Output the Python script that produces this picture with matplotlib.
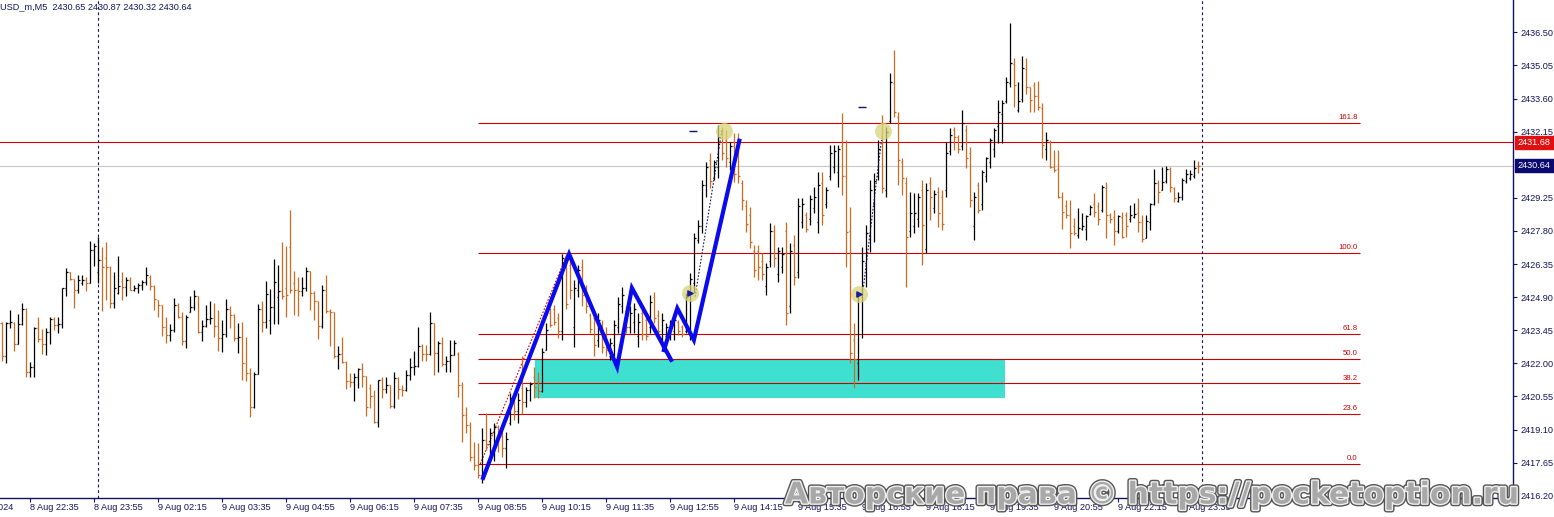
import matplotlib
matplotlib.use("Agg")
import matplotlib.pyplot as plt
from matplotlib.collections import LineCollection
from matplotlib.patches import Rectangle
from matplotlib import patheffects as pe
from matplotlib.transforms import blended_transform_factory

plt.rcParams['font.family'] = ['Liberation Sans', 'DejaVu Sans']

# ---- M5 bars (oldest first) ----
opens = [
    2423.75, 2422.34, 2423.76, 2423.78, 2422.85, 2423.73, 2424.40, 2421.61, 2421.83, 2423.54,
    2423.06, 2422.85, 2423.39, 2423.93, 2423.69, 2423.73, 2425.29, 2425.99, 2425.69, 2425.22,
    2425.50, 2425.63, 2425.51, 2426.97, 2426.00, 2426.53, 2426.60, 2426.24, 2424.63, 2425.10,
    2425.60, 2425.36, 2425.66, 2425.22, 2425.29, 2425.44, 2425.58, 2425.80, 2425.39, 2424.78,
    2424.55, 2423.61, 2423.25, 2423.47, 2424.56, 2424.05, 2422.96, 2424.25, 2424.46, 2424.93,
    2423.35, 2423.64, 2423.95, 2423.98, 2423.64, 2423.13, 2423.29, 2424.39, 2424.12, 2423.10,
    2423.17, 2422.01, 2421.57, 2420.08, 2421.54, 2424.37, 2423.79, 2423.90, 2424.46, 2424.90,
    2425.15, 2425.30, 2427.10, 2425.50, 2425.22, 2425.15, 2425.32, 2426.05, 2425.07, 2424.71,
    2423.64, 2425.22, 2424.30, 2424.24, 2422.33, 2422.40, 2422.05, 2421.23, 2421.20, 2421.38,
    2421.74, 2421.45, 2420.90, 2420.58, 2419.42, 2421.28, 2420.87, 2421.06, 2420.11, 2421.35,
    2420.87, 2420.81, 2421.50, 2421.82, 2421.89, 2422.74, 2422.42, 2422.40, 2423.76, 2422.44,
    2422.88, 2421.98, 2422.08, 2422.37, 2422.40, 2421.05, 2419.74, 2419.30, 2417.91, 2417.55,
    2417.10, 2418.64, 2418.45, 2418.30, 2419.20, 2418.80, 2418.30, 2419.40, 2420.30, 2419.90,
    2420.90, 2420.30, 2420.85, 2421.40, 2421.20, 2420.80, 2422.60, 2424.20, 2424.40, 2424.00,
    2423.40, 2426.60, 2426.30, 2423.60, 2425.20, 2426.20, 2425.20, 2424.10, 2424.00, 2423.00,
    2423.70, 2423.20, 2422.30, 2422.80, 2423.60, 2424.50, 2424.30, 2423.60, 2423.80, 2423.20,
    2424.20, 2423.90, 2423.60, 2424.90, 2424.10, 2423.10, 2423.20, 2423.30, 2423.40, 2423.80,
    2423.60, 2423.40, 2423.40, 2425.50, 2427.40, 2428.00, 2429.80, 2430.90, 2430.10, 2430.60,
    2432.10, 2431.80, 2430.80, 2431.50, 2431.80, 2429.90, 2428.90, 2428.50, 2426.90, 2426.90,
    2426.50, 2425.40, 2426.50, 2427.80, 2425.90, 2426.20, 2427.80, 2424.50, 2427.20, 2426.00,
    2428.20, 2428.50, 2428.30, 2428.80, 2428.20, 2429.90, 2429.00, 2430.20, 2430.60, 2430.40,
    2431.50, 2430.20, 2427.80, 2423.00, 2422.00, 2424.90, 2426.40, 2427.60, 2429.00, 2430.20,
    2431.90, 2429.60, 2432.60, 2434.30, 2432.80, 2430.80, 2429.90, 2427.80, 2428.00, 2428.30,
    2429.60, 2427.00, 2429.90, 2428.80, 2429.50, 2429.30, 2429.60, 2431.30, 2432.20, 2431.90,
    2431.50, 2432.20, 2431.20, 2428.00, 2429.80, 2429.00, 2430.20, 2430.80, 2431.40, 2432.40,
    2432.90, 2433.50, 2434.30, 2435.10, 2433.10, 2433.60, 2434.90, 2434.10, 2434.20, 2433.70,
    2433.20, 2431.40, 2431.70, 2430.60, 2430.50, 2429.30, 2428.90, 2428.50, 2428.00, 2427.60,
    2427.90, 2427.90, 2428.55, 2429.00, 2428.90, 2428.70, 2429.70, 2428.50, 2428.40, 2427.80,
    2428.40, 2428.50, 2428.30, 2428.40, 2428.60, 2428.20, 2427.50, 2428.20, 2429.00, 2429.90,
    2429.60, 2430.00, 2430.50, 2429.70, 2429.10, 2429.30, 2430.00, 2430.10, 2430.20, 2430.65,
]
highs = [
    2423.80, 2423.80, 2424.34, 2423.80, 2424.17, 2424.63, 2424.44, 2422.05, 2423.61, 2424.02,
    2423.51, 2423.54, 2424.05, 2424.05, 2424.02, 2425.29, 2426.17, 2426.02, 2425.70, 2425.88,
    2425.85, 2425.77, 2427.36, 2427.26, 2427.52, 2427.09, 2427.31, 2426.27, 2425.98, 2426.71,
    2425.98, 2425.80, 2425.77, 2425.44, 2425.51, 2425.66, 2426.24, 2425.85, 2425.44, 2424.78,
    2424.56, 2424.02, 2423.73, 2424.85, 2424.63, 2424.23, 2424.12, 2424.93, 2425.22, 2424.93,
    2423.88, 2424.56, 2424.71, 2424.63, 2424.34, 2423.90, 2424.82, 2424.49, 2424.17, 2423.76,
    2423.83, 2423.17, 2421.79, 2421.64, 2424.61, 2424.71, 2425.61, 2425.25, 2426.56, 2426.31,
    2427.31, 2427.12, 2428.72, 2426.05, 2425.77, 2425.76, 2426.20, 2426.05, 2425.15, 2424.71,
    2425.41, 2425.88, 2424.39, 2424.24, 2422.78, 2423.17, 2422.08, 2421.57, 2421.57, 2421.79,
    2422.01, 2421.45, 2421.10, 2420.84, 2421.28, 2421.39, 2421.42, 2421.06, 2421.61, 2421.42,
    2421.06, 2421.71, 2422.23, 2422.52, 2423.57, 2422.85, 2422.81, 2424.24, 2423.76, 2422.96,
    2423.15, 2422.30, 2423.03, 2423.03, 2422.51, 2421.19, 2420.10, 2419.45, 2418.57, 2418.50,
    2419.15, 2419.81, 2419.15, 2419.40, 2419.30, 2419.10, 2419.00, 2420.70, 2420.40, 2420.70,
    2422.30, 2420.98, 2421.20, 2421.86, 2421.64, 2422.66, 2423.75, 2424.41, 2424.55, 2424.20,
    2426.80, 2426.83, 2426.70, 2425.65, 2426.31, 2426.56, 2425.43, 2424.19, 2424.27, 2424.19,
    2423.90, 2423.61, 2423.10, 2423.90, 2424.92, 2425.36, 2424.49, 2424.49, 2424.63, 2424.19,
    2424.49, 2424.19, 2425.00, 2425.14, 2424.34, 2424.19, 2423.75, 2423.90, 2424.05, 2423.90,
    2423.68, 2425.07, 2425.95, 2427.70, 2428.28, 2430.03, 2430.83, 2431.20, 2430.91, 2432.44,
    2432.37, 2432.22, 2431.71, 2432.08, 2432.07, 2430.03, 2429.15, 2428.86, 2427.18, 2427.18,
    2426.82, 2426.38, 2428.13, 2428.06, 2427.11, 2427.11, 2428.20, 2427.25, 2427.62, 2429.23,
    2429.23, 2428.64, 2429.37, 2429.74, 2430.40, 2430.40, 2429.74, 2431.56, 2431.56, 2431.56,
    2432.95, 2431.78, 2428.86, 2423.75, 2425.07, 2427.11, 2428.06, 2430.03, 2430.32, 2431.78,
    2432.88, 2432.37, 2434.70, 2435.72, 2433.02, 2430.98, 2430.17, 2429.52, 2429.44, 2429.44,
    2430.03, 2429.88, 2430.17, 2429.59, 2429.74, 2429.59, 2431.71, 2432.29, 2432.36, 2432.00,
    2433.09, 2432.44, 2431.49, 2429.52, 2429.96, 2430.47, 2431.05, 2431.85, 2432.29, 2433.53,
    2433.53, 2434.53, 2436.90, 2435.36, 2434.34, 2435.46, 2435.39, 2434.12, 2434.34, 2434.37,
    2433.39, 2432.15, 2431.78, 2431.35, 2431.35, 2429.52, 2429.15, 2429.15, 2428.35, 2428.79,
    2428.57, 2428.50, 2428.94, 2429.45, 2429.08, 2429.81, 2429.96, 2428.57, 2428.72, 2428.50,
    2428.64, 2428.64, 2428.94, 2429.01, 2429.23, 2428.50, 2428.50, 2429.01, 2430.51, 2430.03,
    2430.62, 2430.66, 2430.62, 2429.74, 2429.52, 2430.10, 2430.51, 2430.47, 2430.91, 2430.87,
]
lows = [
    2422.12, 2422.01, 2423.54, 2422.52, 2422.85, 2423.69, 2421.38, 2421.42, 2421.42, 2422.93,
    2422.42, 2422.37, 2422.85, 2423.47, 2423.32, 2423.54, 2424.96, 2425.66, 2424.44, 2425.10,
    2425.44, 2425.15, 2425.51, 2426.28, 2425.54, 2424.27, 2424.78, 2424.42, 2424.42, 2425.04,
    2424.78, 2424.93, 2425.20, 2425.15, 2425.07, 2425.22, 2425.44, 2425.22, 2424.34, 2424.05,
    2423.20, 2422.91, 2422.96, 2423.39, 2423.98, 2422.80, 2422.66, 2424.23, 2424.34, 2423.32,
    2422.96, 2423.61, 2423.73, 2423.17, 2422.52, 2422.49, 2423.17, 2423.54, 2422.96, 2422.44,
    2421.28, 2421.23, 2419.67, 2420.04, 2421.54, 2423.35, 2423.54, 2423.29, 2423.73, 2423.73,
    2424.81, 2424.05, 2425.07, 2424.12, 2424.09, 2424.93, 2425.15, 2424.34, 2423.88, 2423.06,
    2423.54, 2424.20, 2422.78, 2422.23, 2421.74, 2422.01, 2420.87, 2420.98, 2420.33, 2420.91,
    2420.98, 2419.71, 2420.04, 2419.38, 2419.19, 2420.50, 2420.69, 2420.04, 2420.04, 2420.43,
    2420.55, 2420.77, 2421.28, 2421.50, 2421.86, 2422.08, 2422.12, 2422.37, 2421.47, 2421.60,
    2421.89, 2421.60, 2421.64, 2422.37, 2420.54, 2418.57, 2418.94, 2417.70, 2417.33, 2416.97,
    2416.74, 2418.21, 2417.84, 2417.70, 2418.10, 2417.90, 2417.40, 2419.30, 2419.50, 2419.40,
    2419.80, 2420.10, 2420.33, 2420.47, 2420.47, 2420.76, 2422.58, 2423.61, 2423.68, 2423.10,
    2423.00, 2424.40, 2424.80, 2422.73, 2424.92, 2424.49, 2424.19, 2423.32, 2422.30, 2422.73,
    2422.44, 2422.30, 2422.15, 2422.30, 2423.32, 2424.19, 2423.32, 2423.32, 2423.32, 2422.73,
    2423.02, 2423.02, 2423.32, 2423.75, 2423.17, 2422.66, 2423.02, 2423.02, 2423.02, 2423.24,
    2423.17, 2423.32, 2423.02, 2425.07, 2427.26, 2427.70, 2429.30, 2429.67, 2430.03, 2430.10,
    2430.91, 2430.62, 2430.47, 2429.96, 2429.88, 2428.71, 2427.77, 2427.04, 2425.80, 2425.65,
    2425.65, 2424.99, 2426.23, 2426.23, 2425.58, 2425.94, 2423.68, 2424.20, 2425.43, 2425.72,
    2427.91, 2427.77, 2428.06, 2428.57, 2427.70, 2428.06, 2428.79, 2430.03, 2430.32, 2429.74,
    2429.37, 2426.23, 2422.00, 2420.90, 2421.27, 2423.10, 2425.36, 2426.89, 2427.33, 2430.03,
    2429.44, 2429.30, 2432.51, 2432.80, 2429.81, 2429.37, 2425.36, 2427.55, 2427.69, 2427.98,
    2426.31, 2426.82, 2428.28, 2428.57, 2427.98, 2427.84, 2429.30, 2431.12, 2431.34, 2431.20,
    2431.34, 2430.54, 2428.86, 2427.40, 2428.57, 2428.71, 2429.96, 2430.54, 2431.05, 2431.64,
    2431.64, 2433.39, 2434.12, 2433.24, 2433.02, 2433.46, 2433.78, 2433.02, 2433.02, 2433.10,
    2430.98, 2430.91, 2430.54, 2430.40, 2429.23, 2427.90, 2428.35, 2427.04, 2427.62, 2427.48,
    2427.84, 2427.40, 2428.50, 2428.43, 2428.06, 2428.64, 2427.48, 2428.13, 2427.18, 2427.70,
    2427.48, 2427.55, 2428.21, 2428.35, 2427.77, 2427.33, 2427.48, 2427.84, 2428.94, 2429.01,
    2429.59, 2429.89, 2429.52, 2429.08, 2429.08, 2429.15, 2429.89, 2430.03, 2430.10, 2430.32,
]
closes = [
    2422.34, 2423.76, 2423.83, 2422.85, 2423.73, 2424.40, 2421.61, 2421.83, 2423.54, 2423.06,
    2422.85, 2423.39, 2423.93, 2423.69, 2423.73, 2425.29, 2425.99, 2425.69, 2425.22, 2425.66,
    2425.63, 2425.51, 2426.97, 2427.16, 2426.53, 2426.24, 2426.24, 2424.63, 2425.29, 2425.40,
    2425.36, 2425.66, 2425.22, 2425.29, 2425.44, 2425.58, 2425.88, 2425.39, 2424.82, 2424.55,
    2423.61, 2423.25, 2423.47, 2424.56, 2424.05, 2422.96, 2424.02, 2424.46, 2424.93, 2423.35,
    2423.64, 2423.95, 2423.98, 2423.64, 2423.13, 2423.29, 2424.39, 2424.12, 2423.10, 2423.17,
    2422.01, 2421.57, 2420.08, 2421.54, 2424.37, 2423.79, 2425.04, 2424.46, 2425.58, 2425.15,
    2424.93, 2425.00, 2425.22, 2425.22, 2425.15, 2425.32, 2426.05, 2425.07, 2424.71, 2423.64,
    2425.22, 2424.30, 2424.24, 2422.33, 2422.40, 2422.05, 2421.23, 2421.20, 2421.38, 2421.74,
    2421.45, 2420.08, 2420.58, 2419.42, 2421.28, 2420.87, 2421.06, 2420.11, 2421.35, 2420.87,
    2420.81, 2421.50, 2421.82, 2421.89, 2422.74, 2422.42, 2422.40, 2423.76, 2422.44, 2422.88,
    2421.98, 2422.08, 2422.37, 2422.88, 2421.05, 2419.74, 2419.30, 2417.91, 2417.55, 2417.10,
    2418.64, 2418.45, 2418.94, 2419.20, 2418.80, 2418.30, 2418.70, 2420.50, 2419.90, 2420.40,
    2420.30, 2420.85, 2421.10, 2420.95, 2420.80, 2422.51, 2423.46, 2423.70, 2423.80, 2423.40,
    2426.60, 2424.60, 2425.20, 2425.30, 2426.10, 2425.00, 2424.50, 2423.50, 2422.80, 2423.90,
    2422.70, 2422.60, 2422.90, 2423.70, 2424.60, 2425.00, 2423.60, 2424.20, 2424.40, 2423.80,
    2423.30, 2423.20, 2424.70, 2424.00, 2423.40, 2423.90, 2423.60, 2423.70, 2423.90, 2423.40,
    2423.30, 2424.90, 2425.70, 2427.50, 2428.00, 2429.80, 2430.60, 2430.00, 2430.80, 2431.90,
    2431.20, 2431.00, 2431.50, 2430.30, 2430.20, 2429.15, 2428.10, 2427.30, 2426.10, 2426.23,
    2425.90, 2426.20, 2427.80, 2426.60, 2426.90, 2426.80, 2424.20, 2426.90, 2425.80, 2428.90,
    2429.00, 2427.90, 2429.20, 2429.30, 2429.80, 2428.50, 2429.60, 2431.20, 2431.30, 2431.40,
    2430.20, 2427.77, 2422.44, 2422.20, 2425.07, 2426.50, 2427.70, 2429.60, 2430.00, 2431.40,
    2429.70, 2432.15, 2434.34, 2433.02, 2430.90, 2430.10, 2427.55, 2428.57, 2428.60, 2429.30,
    2428.06, 2429.60, 2429.30, 2429.40, 2428.57, 2428.10, 2431.20, 2432.00, 2431.93, 2431.40,
    2432.51, 2431.00, 2429.15, 2429.30, 2428.71, 2430.39, 2430.98, 2431.78, 2432.22, 2433.00,
    2433.40, 2434.34, 2435.14, 2434.19, 2433.49, 2434.92, 2434.12, 2433.53, 2433.70, 2433.24,
    2431.57, 2431.78, 2430.62, 2430.47, 2429.30, 2428.64, 2428.50, 2427.70, 2427.70, 2427.92,
    2428.00, 2428.45, 2428.85, 2428.64, 2428.30, 2429.74, 2428.50, 2428.30, 2427.80, 2428.45,
    2427.55, 2428.00, 2428.50, 2428.55, 2428.21, 2427.45, 2428.25, 2428.97, 2429.89, 2429.52,
    2429.96, 2430.50, 2429.71, 2429.23, 2429.30, 2430.03, 2430.28, 2430.30, 2430.55, 2430.64,
]

# time axis labels (bar index -> label)
time_bars = [7, 23, 39, 55, 71, 87, 103, 119, 135, 151, 167, 183, 199, 215, 231, 247, 263, 279, 295]
time_labels = ["8 Aug 22:35", "8 Aug 23:55", "9 Aug 02:15", "9 Aug 03:35", "9 Aug 04:55",
               "9 Aug 06:15", "9 Aug 07:35", "9 Aug 08:55", "9 Aug 10:15", "9 Aug 11:35",
               "9 Aug 12:55", "9 Aug 14:15", "9 Aug 15:35", "9 Aug 16:55", "9 Aug 18:15",
               "9 Aug 19:35", "9 Aug 20:55", "9 Aug 22:15", "9 Aug 23:35"]
price_ticks = [2416.20, 2417.65, 2419.10, 2420.55, 2422.00, 2423.45, 2424.90, 2426.35,
               2427.80, 2429.25, 2432.15, 2433.60, 2435.05, 2436.50]

# fibonacci retracement
fib_low, fib_high = 2417.59, 2426.83
fib_levels = [0.0, 23.6, 38.2, 50.0, 61.8, 100.0, 161.8]
fib_start, fib_end = 119, 339.4

# zigzag legs
zig1_bars = [120.2, 141.7, 153.7, 157.4, 167.2]
zig1_prices = [2416.98, 2426.79, 2421.84, 2425.30, 2422.15]
zig2_bars = [165.4, 168.75, 172.9, 184.25]
zig2_prices = [2422.58, 2424.41, 2423.02, 2431.75]

# signal marks
sig_bars = [171.9, 180.4, 214.2, 220.2]
sig_prices = [2425.08, 2432.17, 2425.04, 2432.17]
dash_bars = [172.7, 214.9]
dash_prices = [2432.17, 2433.22]
sig_lines = [((173.2, 2424.92), (179.9, 2432.22)), ((215.3, 2425.36), (219.8, 2431.78))]

zone_bars = (133.2, 250.7)
zone_prices = (2420.48, 2422.21)

hline_red = 2431.68
bid = 2430.64
separators = [24, 300]

navy = '#14145e'
bear = '#cd6a22'

W, H = 1554, 517
fig = plt.figure(figsize=(W / 100, H / 100), dpi=100)
ax = fig.add_axes([0, (H - 498) / H, 1513 / W, 498 / H])
ax.set_xlim(-0.575, 377.675)
ax.set_ylim(2416.10, 2437.915)

# zone (background object)
ax.add_patch(Rectangle((zone_bars[0], zone_prices[0]), zone_bars[1] - zone_bars[0],
                       zone_prices[1] - zone_prices[0], color='#40e0d0', lw=0, zorder=1))

# bars
segs, cols = [], []
for i, (o, h, l, c) in enumerate(zip(opens, highs, lows, closes)):
    col = 'black' if c >= o else bear
    segs += [[(i, l), (i, h)], [(i - 0.45, o), (i, o)], [(i, c), (i + 0.45, c)]]
    cols += [col] * 3
ax.add_collection(LineCollection(segs, colors=cols, linewidths=0.9, zorder=3))

# horizontal lines
ax.axhline(bid, color='#c8c8c8', lw=0.8, zorder=2)
ax.axhline(hline_red, color='#d40000', lw=0.8, zorder=2)
for lv in fib_levels:
    p = fib_low + (fib_high - fib_low) * lv / 100
    ax.hlines(p, fib_start, fib_end, color='#cc0000', lw=0.8, zorder=2)
    ax.text(fib_end - 0.6, p + 0.08, f"{lv:.1f}", color='#cc0000', fontsize=5.6,
            ha='right', va='bottom', zorder=4)
ax.plot([119.5, 141.3], [fib_low, fib_high], color='#cc0000', lw=0.8, ls=(0, (1.5, 1.5)), zorder=2)

for sx in separators:
    ax.axvline(sx, color=navy, lw=0.8, ls=(0, (2.5, 2.5)), zorder=2)

# zigzag
ax.plot(zig1_bars, zig1_prices, color='#0a0af0', lw=3, solid_joinstyle='miter', zorder=5)
ax.plot(zig2_bars, zig2_prices, color='#0a0af0', lw=3, solid_joinstyle='miter', zorder=5)

# signals
for (a, b) in sig_lines:
    ax.plot([a[0], b[0]], [a[1], b[1]], color=navy, lw=0.8, ls=(0, (1.5, 1.5)), zorder=4)
ax.scatter(sig_bars, sig_prices, s=150, color='#d8d47a', alpha=0.75, lw=0, zorder=6)
ax.scatter([sig_bars[0], sig_bars[2]], [sig_prices[0], sig_prices[2]], marker='>',
           s=14, color='#1a1aa0', zorder=7)
ax.scatter(dash_bars, dash_prices, marker='_', s=30, color=navy, lw=1, zorder=6)

# axes styling
for s in ['top', 'left']:
    ax.spines[s].set_visible(False)
for s in ['right', 'bottom']:
    ax.spines[s].set_color(navy)
    ax.spines[s].set_linewidth(1)
ax.yaxis.tick_right()
ax.set_yticks(price_ticks)
ax.set_yticklabels([f"{p:.2f}" for p in price_ticks])
ax.tick_params(axis='y', length=3, width=0.8, pad=2.5, labelsize=6.6,
               labelcolor=navy, color=navy)
ax.set_xticks(time_bars)
ax.tick_params(axis='x', length=3, width=0.8, color=navy, labelbottom=False)

tr = blended_transform_factory(ax.transData, fig.transFigure)
for b, lab in zip(time_bars, time_labels):
    ax.text(b, 1 - 507.5 / H, lab, transform=tr, fontsize=6.6, color=navy,
            ha='left', va='center', clip_on=False)
ax.text(2.7, 1 - 507.5 / H, "8 Aug 2024", transform=tr, fontsize=6.6, color=navy,
        ha='right', va='center', clip_on=False)

# price boxes on the scale
for price, bg, yc in [(hline_red, '#e01010', 142.3), (bid, '#0a0a70', 165.4)]:
    fig.patches.append(Rectangle((1515 / W, 1 - (yc + 6.8) / H), 39 / W, 13.6 / H,
                                 transform=fig.transFigure, color=bg, zorder=10))
    fig.text(1517 / W, 1 - yc / H, f"{price:.2f}", color='white', fontsize=6.6,
             ha='left', va='center', zorder=11)

# header
fig.text(0.5 / W, 1 - 6.5 / H, "USD_m,M5  2430.65 2430.87 2430.32 2430.64",
         fontsize=6.6, color=navy, ha='left', va='center')

# watermark
fig.text(785 / W, 1 - 495 / H, "Авторские права © https://pocketoption.ru",
         fontsize=21.5, fontweight='bold', family='DejaVu Sans', color='#a8a8a8',
         ha='left', va='center', zorder=20,
         path_effects=[pe.Stroke(linewidth=4, foreground='#555555'),
                       pe.Stroke(linewidth=2, foreground='#f0f0f0'), pe.Normal()])

fig.savefig('out.png', dpi=100)
